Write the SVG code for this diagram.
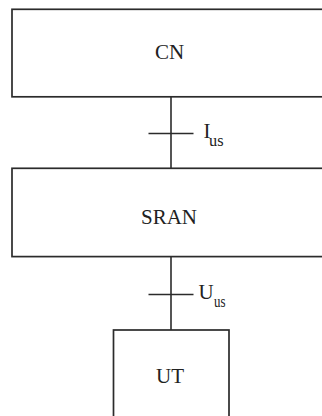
<svg xmlns="http://www.w3.org/2000/svg" width="322" height="416" viewBox="0 0 322 416">
<style>
.box{fill:#fff;stroke:#2b2b2b;stroke-width:1.7}
.ln{stroke:#2b2b2b;stroke-width:1.6;fill:none}
.t{font-family:"Liberation Serif","Times New Roman",serif;font-size:21px;fill:#222}
.s{font-family:"Liberation Serif","Times New Roman",serif;font-size:16px;fill:#222}
</style>
<rect width="322" height="416" fill="#fff"/>
<g id="connectors">
<line class="ln" x1="171" y1="97" x2="171" y2="168"/>
<line class="ln" x1="148.5" y1="133.5" x2="193.5" y2="133.5"/>
<line class="ln" x1="171" y1="257" x2="171" y2="330"/>
<line class="ln" x1="148.5" y1="294.5" x2="193.5" y2="294.5"/>
</g>
<g id="label-ius">
<text class="t" x="203.5" y="138">I</text>
<text class="s" x="209" y="146.3" textLength="14.5" lengthAdjust="spacingAndGlyphs">us</text>
</g>
<g id="label-uus">
<text class="t" x="198.5" y="299.3">U</text>
<text class="s" x="214" y="307.3" textLength="11.5" lengthAdjust="spacingAndGlyphs">us</text>
</g>
<g id="cn">
<rect class="box" x="12" y="9.3" width="318" height="87.5"/>
<text class="t" x="169.5" y="58.7" text-anchor="middle">CN</text>
</g>
<g id="sran">
<rect class="box" x="12" y="168.3" width="318" height="88.3"/>
<text class="t" x="169" y="224" text-anchor="middle">SRAN</text>
</g>
<g id="ut">
<rect class="box" x="113.5" y="330" width="115.5" height="100"/>
<text class="t" x="170" y="383.3" text-anchor="middle">UT</text>
</g>
</svg>
